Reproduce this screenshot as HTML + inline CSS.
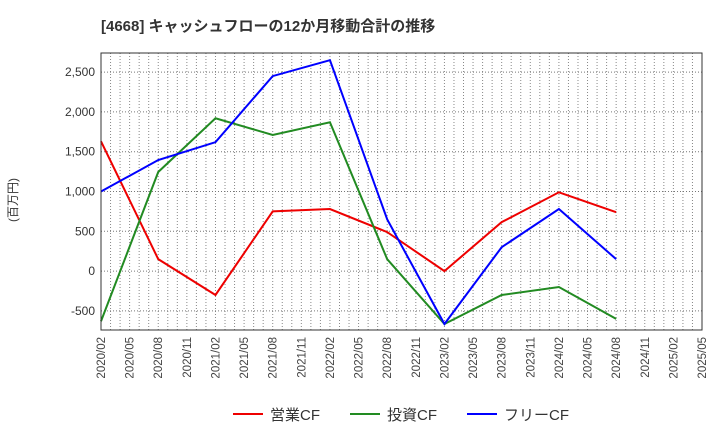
<!DOCTYPE html>
<html><head><meta charset="utf-8">
<style>
body{margin:0;background:#fff;}
svg text{font-family:"Liberation Sans","Noto Sans CJK JP",sans-serif;}
</style></head>
<body>
<svg id="chart" width="720" height="440" xmlns="http://www.w3.org/2000/svg">
<text x="101" y="31" font-size="15" font-weight="bold" fill="#333">[4668]  キャッシュフローの12か月移動合計の推移</text>
<text transform="translate(17,200) rotate(-90)" font-size="12" fill="#333" text-anchor="middle">(百万円)</text>
<g id="grid"></g><g id="axes"></g><g id="series"></g>
<rect x="101" y="53" width="601" height="277" fill="none" stroke="#333" stroke-width="1"/>
<g>
<line x1="233" y1="414" x2="263" y2="414" stroke="#e00" stroke-width="2"/><text x="270" y="420" font-size="15" fill="#333">営業CF</text>
<line x1="350" y1="414" x2="380" y2="414" stroke="#228b22" stroke-width="2"/><text x="387" y="420" font-size="15" fill="#333">投資CF</text>
<line x1="467" y1="414" x2="497" y2="414" stroke="#00f" stroke-width="2"/><text x="504" y="420" font-size="15" fill="#333">フリーCF</text>
</g>
</svg>
<script>
const xLabels=["2020/02","2020/05","2020/08","2020/11","2021/02","2021/05","2021/08","2021/11","2022/02","2022/05","2022/08","2022/11","2023/02","2023/05","2023/08","2023/11","2024/02","2024/05","2024/08","2024/11","2025/02","2025/05"];
const yTicks=[-500,0,500,1000,1500,2000,2500];
const pointIdx=[0,2,4,6,8,10,12,14,16,18];
const operatingCF=[1630,150,-300,750,780,490,0,615,990,740];
const investingCF=[-630,1245,1920,1710,1870,150,-665,-300,-200,-600];
const freeCF=[1000,1395,1620,2450,2650,650,-665,300,780,150];
const NS="http://www.w3.org/2000/svg";
const X0=101,X1=702,Y0=53,Y1=330,VMIN=-740,VMAX=2740;
const nInt=xLabels.length-1;
function xq(i){return X0+(X1-X0)*i/nInt;}
function y(v){return Y1-(v-VMIN)/(VMAX-VMIN)*(Y1-Y0);}
function mk(tag,attrs,parent){const e=document.createElementNS(NS,tag);for(const k in attrs)e.setAttribute(k,attrs[k]);parent.appendChild(e);return e;}
const grid=document.getElementById('grid'),axes=document.getElementById('axes'),ser=document.getElementById('series');
for(let m=1;m<nInt*3;m++){const xx=X0+(X1-X0)*m/(nInt*3);
 const l=mk('line',{x1:xx,x2:xx,y1:Y0,y2:Y1,stroke:'#888','stroke-dasharray':'1,2','stroke-width':1},grid);
 
 }
yTicks.forEach(v=>{
 const l=mk('line',{x1:X0,x2:X1,y1:y(v),y2:y(v),stroke:'#777','stroke-dasharray':'1,2'},grid);
 
 
 const t=mk('text',{x:X0-6,y:y(v)+4,'font-size':12,fill:'#333','text-anchor':'end'},axes);
 t.textContent=v.toLocaleString('en-US');
 
 
});
xLabels.forEach((s,i)=>{
 const t=mk('text',{transform:`translate(${xq(i)+4},337) rotate(-90)`,'font-size':11.5,fill:'#444','text-anchor':'end'},axes);
 t.textContent=s;
 
 
});
[[operatingCF,'#e00','operating-cf-line'],[investingCF,'#228b22','investing-cf-line'],[freeCF,'#00f','free-cf-line']].forEach(([d,c,n])=>{
 const p=mk('polyline',{points:d.map((v,i)=>xq(pointIdx[i])+','+y(v)).join(' '),fill:'none',stroke:c,'stroke-width':2},ser);
 
 
});
</script>
</body></html>
